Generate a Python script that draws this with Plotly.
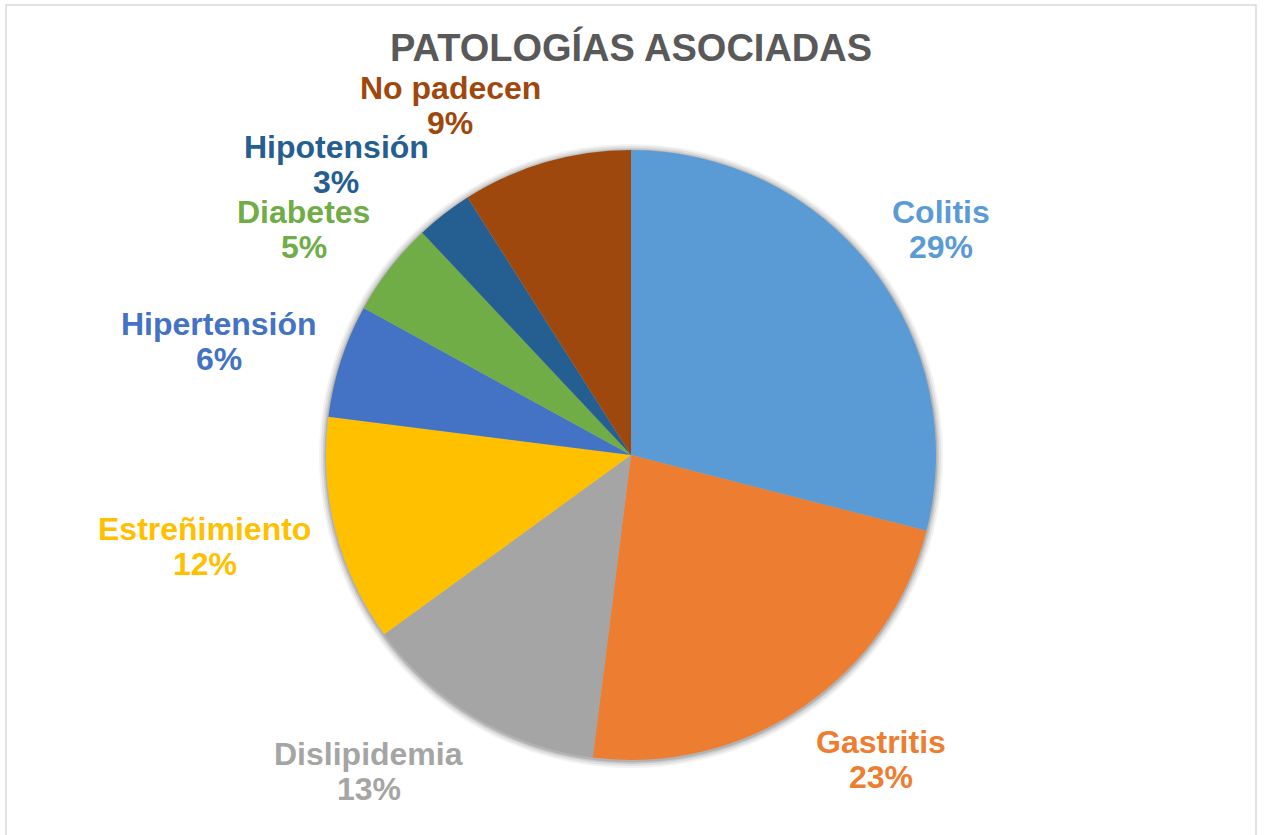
import math
import plotly.graph_objects as go

# Data
categories = ["Colitis", "Gastritis", "Dislipidemia", "Estreñimiento",
              "Hipertensión", "Diabetes", "Hipotensión", "No padecen"]
percentages = [29, 23, 13, 12, 6, 5, 3, 9]
colors = ["#5B9BD5", "#ED7D31", "#A5A5A5", "#FFC000",
          "#4472C4", "#70AD47", "#255E91", "#9E480E"]
title_text = "PATOLOGÍAS ASOCIADAS"

# Canvas and pie geometry (pixels)
W, H = 1265, 835
CX, CY, R = 631, 455, 305
FONT = "Liberation Sans, Arial, sans-serif"
LABEL_SIZE = 32
LINE_GAP = 35
LABEL_PAD = 25
BOX_H = 66

# Arial Bold advance widths (per 1000 em) for width estimates
ADV = {" ": 278, "%": 889, "C": 722, "D": 722, "E": 667, "G": 778, "H": 722,
       "N": 722, "a": 556, "b": 611, "c": 556, "d": 611, "e": 556, "i": 278,
       "l": 278, "m": 889, "n": 611, "ñ": 611, "o": 611, "ó": 611, "p": 611,
       "r": 389, "s": 556, "t": 333}


def text_width(s, size):
    return sum(ADV.get(ch, 556) for ch in s) / 1000 * size


def px_to_paper(x, y):
    return x / W, 1 - y / H


def clamp(v):
    return max(-1.0, min(1.0, v))


fig = go.Figure()

x0, y1 = px_to_paper(CX - R, CY - R)
x1, y0 = px_to_paper(CX + R, CY + R)
fig.add_trace(go.Pie(
    labels=categories,
    values=percentages,
    marker=dict(colors=colors, line=dict(width=0)),
    sort=False,
    direction="clockwise",
    rotation=0,
    textinfo="none",
    hoverinfo="label+percent",
    showlegend=False,
    domain=dict(x=[x0, x1], y=[y0, y1]),
))

# Soft halo behind the pie
shapes = []
for k, op in [(7, 0.05), (5, 0.07), (3, 0.09), (1.5, 0.12)]:
    a0, b1 = px_to_paper(CX - R - k, CY - R - k + 1)
    a1, b0 = px_to_paper(CX + R + k, CY + R + k + 1)
    shapes.append(dict(type="circle", xref="paper", yref="paper",
                       x0=a0, x1=a1, y0=b0, y1=b1, layer="below",
                       fillcolor="black", opacity=op, line=dict(width=0)))

# Chart frame
shapes.append(dict(type="rect", xref="paper", yref="paper",
                   x0=6 / W, x1=1256 / W, y0=-0.02, y1=1 - 5 / H,
                   line=dict(color="#D9D9D9", width=1.5),
                   fillcolor="rgba(0,0,0,0)", layer="above"))

# Outside-end data labels: anchored on each slice's mid angle, with the
# text block pushed outward so its inner side faces the pie
total = sum(percentages)
cum = 0
annotations = []
for name, val, col in zip(categories, percentages, colors):
    ang = (cum + val / 2) / total * 2 * math.pi
    cum += val
    pct = f"{round(val / total * 100)}%"
    w = max(text_width(name, LABEL_SIZE), text_width(pct, LABEL_SIZE))
    ux, uy = math.sin(ang), -math.cos(ang)
    px = CX + ux * (R + LABEL_PAD)
    py = CY + uy * (R + LABEL_PAD)
    cx = px + w / 2 * clamp(3.5 * ux)
    cy = py + BOX_H / 2 * clamp(1.15 * uy)
    for txt, yy in [(name, cy - LINE_GAP / 2), (pct, cy + LINE_GAP / 2)]:
        ax, ay = px_to_paper(cx, yy)
        annotations.append(dict(
            text=txt, x=ax, y=ay, xref="paper", yref="paper",
            xanchor="center", yanchor="middle", showarrow=False,
            font=dict(family=FONT, size=LABEL_SIZE, color=col, weight="bold"),
        ))

tx, ty = px_to_paper(CX, 48)
annotations.append(dict(
    text=title_text, x=tx, y=ty, xref="paper", yref="paper",
    xanchor="center", yanchor="middle", showarrow=False,
    font=dict(family=FONT, size=38, color="#595959", weight="bold"),
))

fig.update_layout(
    width=W, height=H,
    margin=dict(l=0, r=0, t=0, b=0),
    paper_bgcolor="white",
    plot_bgcolor="white",
    shapes=shapes,
    annotations=annotations,
)

fig.write_html("out.html")
